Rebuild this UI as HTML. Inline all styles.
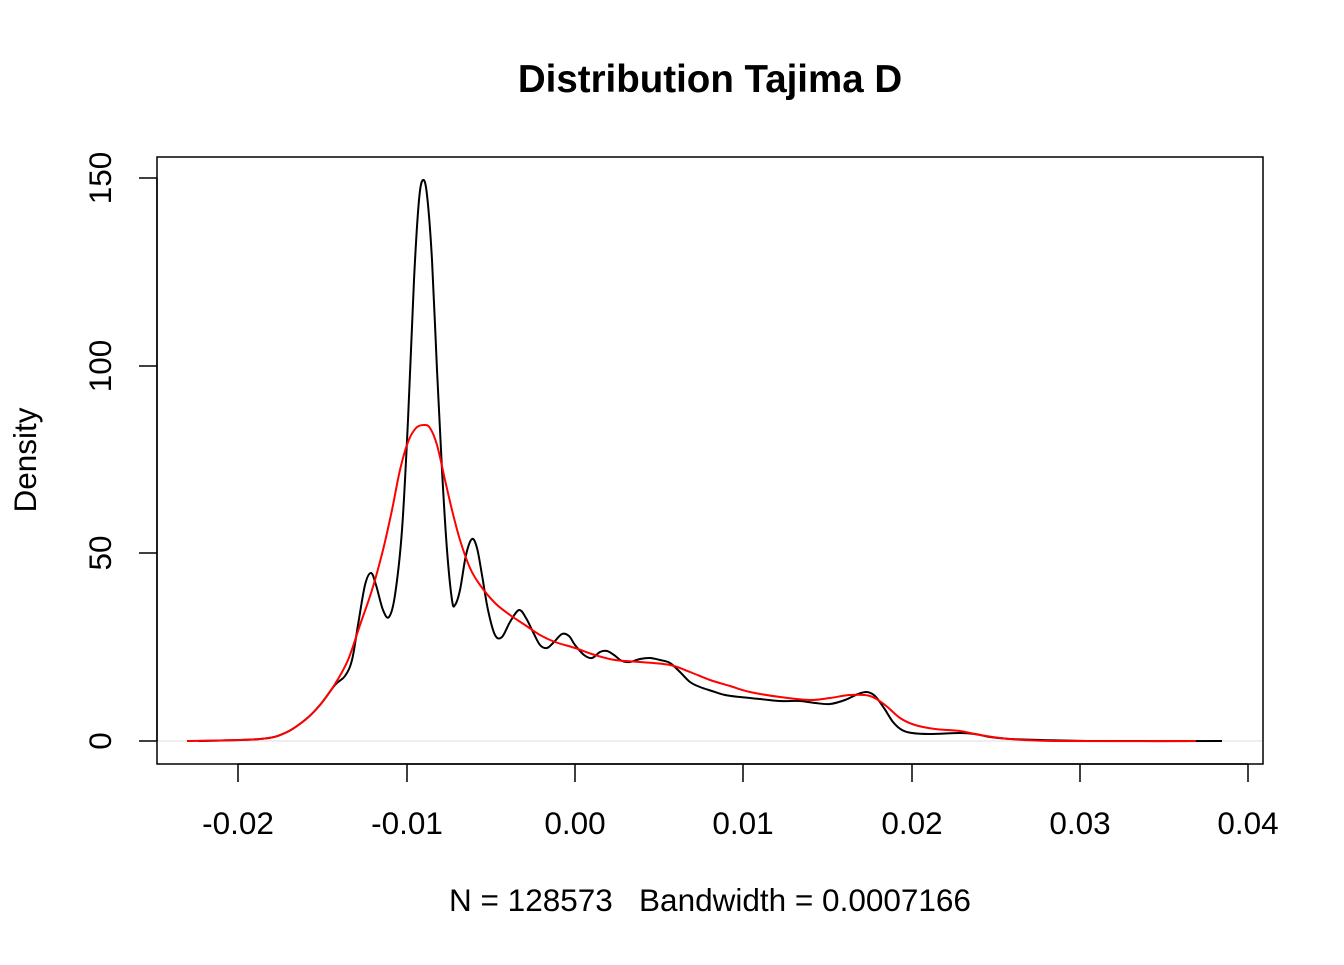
<!DOCTYPE html>
<html><head><style>body{margin:0;background:#fff}</style></head><body>
<svg width="1344" height="960" xmlns="http://www.w3.org/2000/svg" font-family="Liberation Sans, sans-serif">
<rect width="1344" height="960" fill="#fff"/>
<text x="710" y="92" font-size="38.5" font-weight="bold" text-anchor="middle">Distribution Tajima D</text>
<line x1="157" y1="741" x2="1263" y2="741" stroke="#ddd" stroke-width="1"/>
<rect x="157" y="157" width="1106" height="607" fill="none" stroke="#000" stroke-width="1.5"/>
<g stroke="#000" stroke-width="1.5">
<line x1="238" y1="764" x2="1248" y2="764"/>
<line x1="238" y1="764" x2="238" y2="782"/><line x1="407" y1="764" x2="407" y2="782"/><line x1="575" y1="764" x2="575" y2="782"/><line x1="743" y1="764" x2="743" y2="782"/><line x1="912" y1="764" x2="912" y2="782"/><line x1="1080" y1="764" x2="1080" y2="782"/><line x1="1248" y1="764" x2="1248" y2="782"/>
<line x1="157" y1="178" x2="157" y2="741"/>
<line x1="139" y1="741" x2="157" y2="741"/><line x1="139" y1="553" x2="157" y2="553"/><line x1="139" y1="366" x2="157" y2="366"/><line x1="139" y1="178" x2="157" y2="178"/>
</g>
<g font-size="31.5" text-anchor="middle">
<text x="238" y="834">-0.02</text><text x="407" y="834">-0.01</text><text x="575" y="834">0.00</text><text x="743" y="834">0.01</text><text x="912" y="834">0.02</text><text x="1080" y="834">0.03</text><text x="1248" y="834">0.04</text>
<text transform="translate(111,741) rotate(-90)">0</text>
<text transform="translate(111,553) rotate(-90)">50</text>
<text transform="translate(111,366) rotate(-90)">100</text>
<text transform="translate(111,178) rotate(-90)">150</text>
<text transform="translate(36,460) rotate(-90)">Density</text>
<text x="710" y="911" style="white-space:pre" xml:space="preserve">N = 128573   Bandwidth = 0.0007166</text>
</g>
<path id="blk" fill="none" stroke="#000" stroke-width="2" data-p="198,741 260,739 285,733 305,720 320,705 335,685 345,676 352,660 358,625 365,585 371,573 376,585 383,610 389,617 395,595 402,530 408,420 414,280 419,200 423,180 427,195 432,260 437,370 442,470 447,550 452,600 455,605 460,590 466,555 472,539 477,548 482,575 488,610 495,635 502,637 510,622 519,610 526,618 533,632 540,645 547,648 554,642 562,634 569,636 575,645 584,655 592,658 600,652 607,651 614,655 622,661 630,662 640,659 650,658 660,660 670,663 680,672 690,682 700,687 712,691 725,695 740,697 760,699 780,701 800,701 815,703 830,704 845,700 858,694 867,692 875,696 884,708 893,722 902,730 912,733 930,734 960,733 975,734 990,737 1010,739 1040,740 1100,741 1222,741"/>
<path id="red" fill="none" stroke="#f00" stroke-width="2" data-p="187,741 260,739 285,733 305,720 320,705 335,684 348,660 360,625 372,590 383,550 392,510 400,470 408,442 416,428 424,425 430,428 437,445 445,480 452,510 460,540 470,568 480,585 495,603 510,615 525,625 540,635 555,642 575,648 595,655 615,660 640,662 670,665 690,672 710,680 730,686 750,692 780,697 810,700 830,698 850,695 870,696 885,705 900,718 915,725 935,729 960,731 980,735 1010,739 1060,741 1196,741"/>
</svg>
<script>
['blk','red'].forEach(function(id){
var el=document.getElementById(id);
var p=el.getAttribute('data-p').split(' ').map(function(s){return s.split(',').map(Number);});
var d='M'+p[0][0]+','+p[0][1];
for(var i=0;i<p.length-1;i++){
var p0=p[i-1]||p[i],p1=p[i],p2=p[i+1],p3=p[i+2]||p2;
var c1x=p1[0]+(p2[0]-p0[0])/6,c1y=p1[1]+(p2[1]-p0[1])/6;
var c2x=p2[0]-(p3[0]-p1[0])/6,c2y=p2[1]-(p3[1]-p1[1])/6;
d+=' C'+c1x+','+c1y+' '+c2x+','+c2y+' '+p2[0]+','+p2[1];
}
el.setAttribute('d',d);el.removeAttribute('data-p');
});
</script>
</body></html>
